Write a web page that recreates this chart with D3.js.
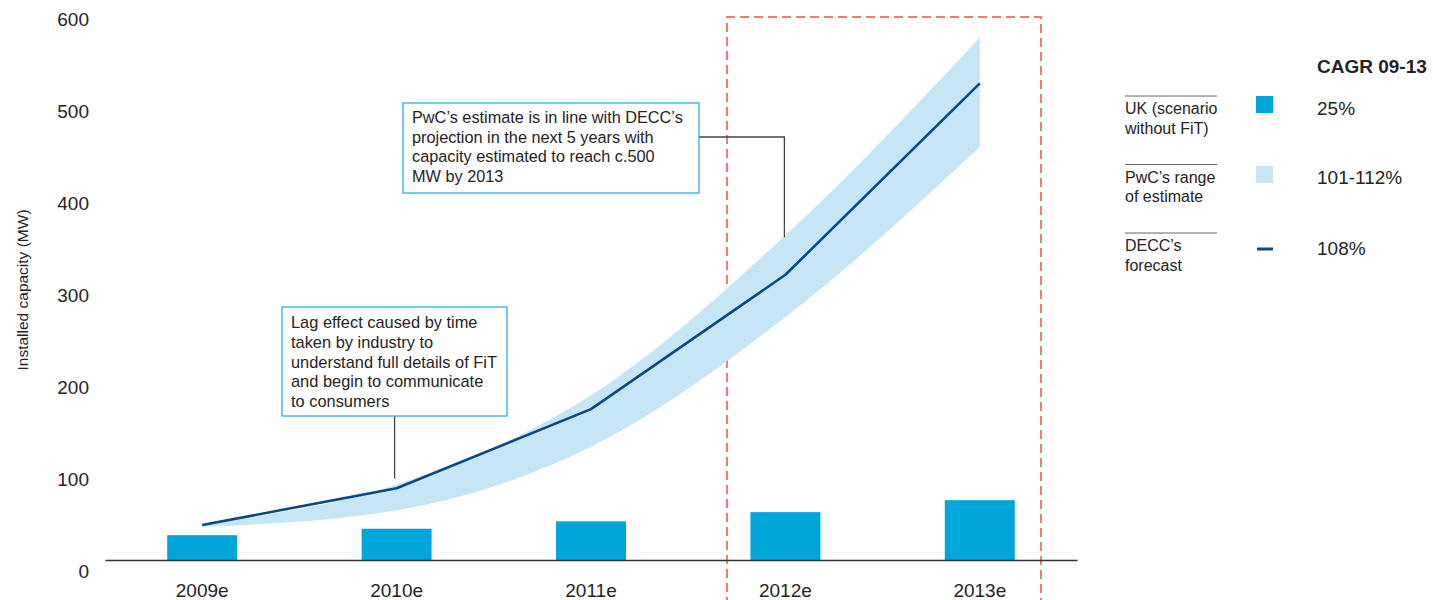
<!DOCTYPE html>
<html>
<head>
<meta charset="utf-8">
<script src="https://cdn.jsdelivr.net/npm/d3@7"></script>
<style>
  html, body { margin: 0; padding: 0; background: #fff; }
  svg { display: block; font-family: "Liberation Sans", Arial, Helvetica, sans-serif; }
</style>
</head>
<body>
<svg id="chart" width="1433" height="600"></svg>
<script>
// Installed solar capacity, UK, 2009e–2013e (MW)
const years = ["2009e", "2010e", "2011e", "2012e", "2013e"];
const ukWithoutFit = [27, 34, 42, 52, 65];          // bars
const deccForecast = [38, 78, 164, 310, 518];       // line
const pwcRangeLow  = [36, 54, 123, 264, 449];       // band lower edge
const pwcRangeHigh = [39, 82, 179, 353, 568];       // band upper edge
const yTicks = [0, 100, 200, 300, 400, 500, 600];

const legendLabels = [["UK (scenario", "without FiT)"], ["PwC\u2019s range", "of estimate"], ["DECC\u2019s", "forecast"]];
const legendValues = ["25%", "101-112%", "108%"];
const legendTitle = "CAGR 09-13";

const notePwc = ["PwC\u2019s estimate is in line with DECC\u2019s", "projection in the next 5 years with", "capacity estimated to reach c.500", "MW by 2013"];
const noteLag = ["Lag effect caused by time", "taken by industry to", "understand full details of FiT", "and begin to communicate", "to consumers"];

const C = {
  bar: "#00a6da",
  band: "#c6e6f5",
  line: "#0a4882",
  box: "#2db0e3",
  red: "#ea5248",
  text: "#262324",
  leader: "#444"
};

const svg = d3.select("#chart");

const x = d3.scaleBand().domain(years).range([105, 1077]).paddingInner(0.64).paddingOuter(0.32);
const y = d3.scaleLinear().domain([0, 600]).range([560, 8]);
const cx = d => x(d) + x.bandwidth() / 2;

// Highlighted forecast window (2012–2013)
svg.append("path")
  .attr("d", `M727,620 L727,17 L1041,17 L1041,620`)
  .attr("fill", "none").attr("stroke", C.red).attr("stroke-width", 1.5)
  .attr("stroke-dasharray", "9,5");

// Bars: UK scenario without FiT
svg.append("g").selectAll("rect").data(years).join("rect")
  .attr("x", d => x(d)).attr("width", x.bandwidth())
  .attr("y", (d, i) => y(ukWithoutFit[i]))
  .attr("height", (d, i) => y(0) - y(ukWithoutFit[i]))
  .attr("fill", C.bar);

// PwC range band
const area = d3.area()
  .x((d, i) => cx(years[i]))
  .y0((d, i) => y(pwcRangeLow[i]))
  .y1((d, i) => y(pwcRangeHigh[i]))
  .curve(d3.curveMonotoneX);
svg.append("path").datum(years).attr("d", area).attr("fill", C.band);

// DECC forecast line
const line = d3.line().x((d, i) => cx(years[i])).y(d => y(d));
svg.append("path").datum(deccForecast).attr("d", line)
  .attr("fill", "none").attr("stroke", C.line).attr("stroke-width", 2.6)
  .attr("stroke-linejoin", "round");

// X axis
const xAxis = svg.append("g").attr("transform", `translate(0,${y(0)})`)
  .call(d3.axisBottom(x).tickSize(0).tickSizeOuter(0));
xAxis.select(".domain").attr("stroke", "#333").attr("stroke-width", 1.5);
xAxis.selectAll("text").attr("font-size", 19).attr("fill", C.text)
  .attr("font-family", "Liberation Sans, Arial, sans-serif")
  .attr("dy", null).attr("y", 37);

// Y axis labels (no axis line)
const yAxis = svg.append("g").attr("transform", "translate(89,0)")
  .call(d3.axisLeft(y).tickValues(yTicks).tickSize(0).tickPadding(0));
yAxis.select(".domain").remove();
yAxis.selectAll("text").attr("font-size", 19).attr("fill", C.text)
  .attr("font-family", "Liberation Sans, Arial, sans-serif")
  .attr("dy", null).attr("y", 17);

svg.append("text")
  .attr("transform", "translate(28,290) rotate(-90)")
  .attr("text-anchor", "middle").attr("font-size", 15.5).attr("fill", C.text)
  .text("Installed capacity (MW)");

// Annotation boxes
function note(lines, bx, by, bw, bh, fs, lh, first) {
  const g = svg.append("g");
  g.append("rect").attr("x", bx).attr("y", by).attr("width", bw).attr("height", bh)
    .attr("fill", "#fff").attr("stroke", C.box).attr("stroke-width", 1.3);
  g.append("text").attr("font-size", fs).attr("fill", C.text)
    .selectAll("tspan").data(lines).join("tspan")
    .attr("x", bx + 9).attr("y", (d, i) => by + first + i * lh).text(d => d);
}

// PwC note with elbow leader to 2012
const x12 = cx("2012e") - 1;
svg.append("path")
  .attr("d", `M699,137 H${x12} V${y(pwcRangeHigh[3]) + 2}`)
  .attr("fill", "none").attr("stroke", C.leader).attr("stroke-width", 1.3);
note(notePwc, 403, 103, 296, 90, 16.3, 19.5, 20);

// Lag note with leader to 2010
const x10 = cx("2010e") - 2;
svg.append("path")
  .attr("d", `M${x10},416 V${y(pwcRangeHigh[1]) - 6}`)
  .attr("fill", "none").attr("stroke", C.leader).attr("stroke-width", 1.3);
note(noteLag, 282, 307, 225, 109, 16.4, 19.8, 21);

// Legend
const lg = svg.append("g");
lg.append("text").attr("x", 1317).attr("y", 73).attr("font-size", 19)
  .attr("font-weight", "bold").attr("fill", C.text).text(legendTitle);
const rowTop = [96, 164.5, 233];
legendLabels.forEach((lbl, i) => {
  const t = rowTop[i];
  lg.append("line").attr("x1", 1125).attr("x2", 1217).attr("y1", t).attr("y2", t)
    .attr("stroke", "#666").attr("stroke-width", 1);
  lg.append("text").attr("font-size", 16).attr("fill", C.text)
    .selectAll("tspan").data(lbl).join("tspan")
    .attr("x", 1125).attr("y", (d, j) => t + 18 + j * 19.5).text(d => d);
  lg.append("text").attr("x", 1317).attr("y", t + (i === 2 ? 22 : 19)).attr("font-size", 19)
    .attr("fill", C.text).text(legendValues[i]);
});
lg.append("rect").attr("x", 1256).attr("y", 96).attr("width", 17).attr("height", 17).attr("fill", C.bar);
lg.append("rect").attr("x", 1256).attr("y", 166).attr("width", 17).attr("height", 17).attr("fill", C.band);
lg.append("line").attr("x1", 1257).attr("x2", 1273).attr("y1", 249).attr("y2", 249)
  .attr("stroke", C.line).attr("stroke-width", 3);
</script>
</body>
</html>
